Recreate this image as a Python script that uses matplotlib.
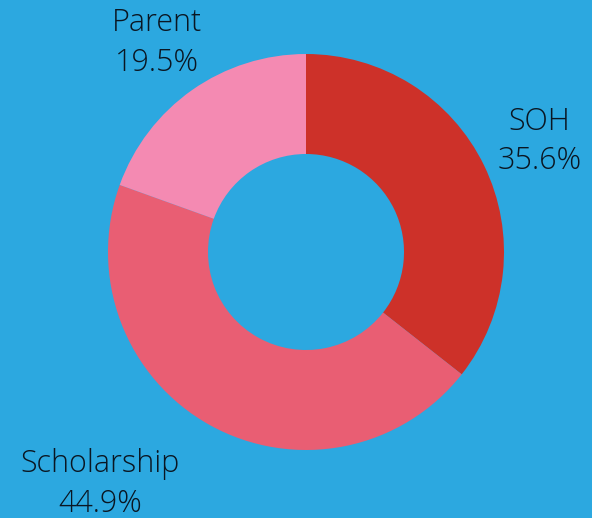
import numpy as np
import matplotlib.pyplot as plt

categories = ['SOH', 'Scholarship', 'Parent']
shares = [35.6, 44.9, 19.5]
colors = ['#CD3129', '#E95E73', '#F48AB2']

bg = '#2CA8E0'
txt = '#0A1622'

fig = plt.figure(figsize=(5.92, 5.18), dpi=100, facecolor=bg)
ax = fig.add_axes([0, 0, 1, 1])
ax.set_facecolor(bg)

wedges, texts = ax.pie(shares, colors=colors, startangle=90, counterclock=False,
                       radius=1.0, wedgeprops=dict(width=0.505, linewidth=0),
                       labels=[f'{c}\n{s}%' for c, s in zip(categories, shares)],
                       labeldistance=1.31,
                       textprops=dict(color=txt, fontsize=22, family='Open Sans',
                                      fontweight='light', linespacing=1.32))
for t in texts:
    t.set_ha('center')
    t.set_va('center')
    x, y = t.get_position()
    t.set_position((x, y - 0.015))
# scholarship label sits further out to the left
texts[1].set_position((-1.04, -1.172))

# 198 px per unit, centre at (306, 252) px from top-left
ax.set_xlim(-306 / 198, (592 - 306) / 198)
ax.set_ylim(-(518 - 252) / 198, 252 / 198)
ax.set_aspect('auto')
ax.axis('off')

fig.savefig('out.png', dpi=100, facecolor=bg)
